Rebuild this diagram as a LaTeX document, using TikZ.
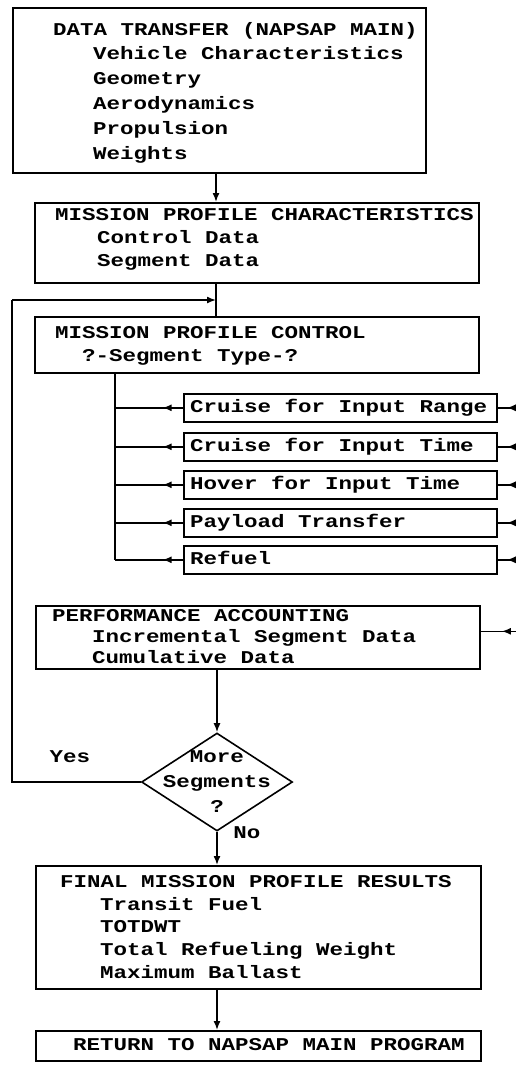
\documentclass[tikz,border=0pt]{standalone}
\usepackage{fontspec}
\newfontfamily\tw[FakeStretch=1.25]{Liberation Mono}
\usetikzlibrary{arrows.meta,decorations.markings,shapes.geometric}
\begin{document}
\begin{tikzpicture}[x=1pt,y=-1pt,
  box/.style={draw,line width=1.6pt,inner sep=0pt,anchor=north west},
  txt/.style={anchor=base west,inner sep=0pt,font=\tw\bfseries\fontsize{18}{22}\selectfont},
  ctxt/.style={anchor=base,inner sep=0pt,font=\tw\bfseries\fontsize{18}{22}\selectfont},
  conn/.style={line width=1.5pt},
  arr/.style={conn,-{Latex[length=9pt,width=7pt]}},
  markat/.style={conn,postaction={decorate},decoration={markings,mark=at position #1 with {\arrow{Latex[length=9pt,width=7pt]}}}}
]
\fill[white] (0,0) rectangle (516,1066);
\useasboundingbox (0,0) rectangle (516,1066);
\coordinate (cx) at (216,0);
\coordinate (vx) at (115,0);
\coordinate (rx) at (516,0);
\coordinate (lx) at (12,0);
\coordinate (loopy) at (0,300);

% box 1
\node[box,minimum width=413pt,minimum height=165pt] (b1) at (12,7) {};
\node[txt] (t1a) at (53,35) {DATA TRANSFER (NAPSAP MAIN)};
\node[txt] (t1b) at (93,59) {Vehicle Characteristics};
\node[txt] (t1c) at (93,84) {Geometry};
\node[txt] (t1d) at (93,109) {Aerodynamics};
\node[txt] (t1e) at (93,134) {Propulsion};
\node[txt] (t1f) at (93,159) {Weights};

% box 2
\node[box,minimum width=444pt,minimum height=80pt] (b2) at (34,202) {};
\node[txt] (t2a) at (55,220) {MISSION PROFILE CHARACTERISTICS};
\node[txt] (t2b) at (97,243) {Control Data};
\node[txt] (t2c) at (97,266) {Segment Data};

% box 3
\node[box,minimum width=444pt,minimum height=56pt] (b3) at (34,316) {};
\node[txt] (t3a) at (55,338) {MISSION PROFILE CONTROL};
\node[txt] (t3b) at (82,361) {?-Segment Type-?};

% segment boxes
\node[box,minimum width=313pt,minimum height=28pt] (s1) at (183,393) {};
\node[box,minimum width=313pt,minimum height=28pt] (s2) at (183,432) {};
\node[box,minimum width=313pt,minimum height=28pt] (s3) at (183,470) {};
\node[box,minimum width=313pt,minimum height=28pt] (s4) at (183,508) {};
\node[box,minimum width=313pt,minimum height=28pt] (s5) at (183,545) {};
\node[txt] (ts1) at (190,412) {Cruise for Input Range};
\node[txt] (ts2) at (190,451) {Cruise for Input Time};
\node[txt] (ts3) at (190,489) {Hover for Input Time};
\node[txt] (ts4) at (190,527) {Payload Transfer};
\node[txt] (ts5) at (190,564) {Refuel};

% box 4
\node[box,minimum width=444pt,minimum height=63pt] (b4) at (35,605) {};
\node[txt] (t4a) at (52,621) {PERFORMANCE ACCOUNTING};
\node[txt] (t4b) at (92,642) {Incremental Segment Data};
\node[txt] (t4c) at (92,663) {Cumulative Data};

% decision
\node[draw,diamond,line width=1.6pt,inner sep=0pt,minimum width=151pt,minimum height=98pt] (d) at (217,782) {};
\node[ctxt] (td1) at (217,762) {More};
\node[ctxt] (td2) at (217,787) {Segments};
\node[ctxt] (td3) at (217,812) {?};
\node[ctxt] (yes) at (70,762) {Yes};
\node[ctxt] (no) at (247,838) {No};

% box 5
\node[box,minimum width=445pt,minimum height=123pt] (b5) at (35,865) {};
\node[txt] (t5a) at (60,887) {FINAL MISSION PROFILE RESULTS};
\node[txt] (t5b) at (100,910) {Transit Fuel};
\node[txt] (t5c) at (100,932) {TOTDWT};
\node[txt] (t5d) at (100,955) {Total Refueling Weight};
\node[txt] (t5e) at (100,978) {Maximum Ballast};

% box 6
\node[box,minimum width=445pt,minimum height=30pt] (b6) at (35,1030) {};
\node[txt] (t6a) at (73,1050) {RETURN TO NAPSAP MAIN PROGRAM};

% connectors
\draw[arr] (b1.south -| cx) -- (b2.north -| cx);
\draw[conn] (b2.south -| cx) -- (b3.north -| cx);
\draw[conn] (d.west) -- (d.west -| lx) -- (lx |- loopy);
\draw[arr] (lx |- loopy) -- (cx |- loopy);
\draw[conn] (b3.south -| vx) -- (s5.west -| vx);
\foreach \s in {s1,s2,s3,s4,s5}{
  \draw[markat=0.3] (\s.west) -- (\s.west -| vx);
  \draw[markat=0.5] (\s.east -| rx) -- (\s.east);
}
\draw[markat=0.4] ([yshift=6pt]b4.east -| rx) -- ([yshift=6pt]b4.east);
\draw[arr] (b4.south -| d.north) -- (d.north);
\draw[arr] (d.south) -- (d.south |- b5.north);
\draw[arr] (d.south |- b5.south) -- (d.south |- b6.north);
\end{tikzpicture}
\end{document}
